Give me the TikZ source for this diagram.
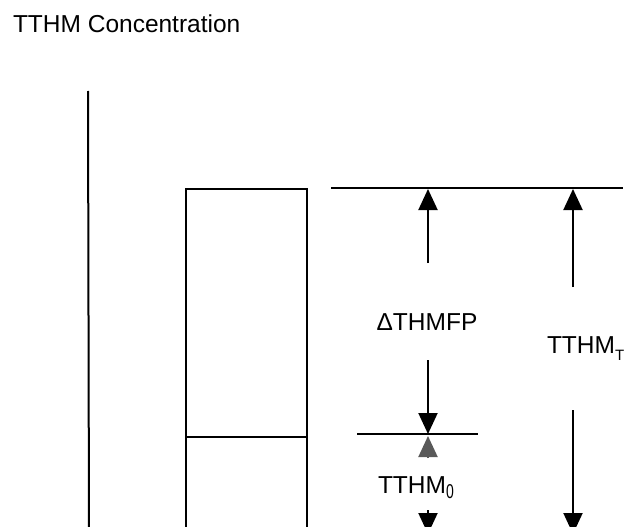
\documentclass[tikz,border=0pt]{standalone}
\usepackage{fontspec}
\setmainfont{Liberation Sans}
\usetikzlibrary{arrows.meta}
\begin{document}
\begin{tikzpicture}[x=1pt,y=-1pt, line width=2pt,
  lbl/.style={font=\fontsize{24.5}{28}\selectfont, inner sep=0pt},
  tip/.style={-{Triangle[width=19pt,length=21pt]}},
]
\useasboundingbox (0,0) rectangle (641,527);
\clip (0,0) rectangle (641,527);
% title
\node[lbl, anchor=base west] (title) at (12,33) {TTHM Concentration};
% axis
\coordinate (axTop) at (88,91);
\coordinate (axBot) at (89,540);
\draw (axTop) -- (axBot);
% bar
\coordinate (bTL) at (186,189);
\coordinate (bTR) at (307,189);
\coordinate (bBL) at (186,560);
\coordinate (bBR) at (307,560);
\coordinate (bML) at (186,437);
\coordinate (bMR) at (307,437);
\draw (bBL) -- (bTL) -- (bTR) -- (bBR);
\draw (bML) -- (bMR);
% reference lines
\coordinate (topL) at (331,188);
\coordinate (topR) at (623,188);
\draw (topL) -- (topR);
\coordinate (midL) at (357,434);
\coordinate (midR) at (478,434);
\draw (midL) -- (midR);
% Delta THMFP dimension
\node[lbl, anchor=base] (dthmfp) at (427,330) {\char"0394THMFP};
\coordinate (aTopTip) at (428,189);
\coordinate (aTopStart) at (428,263);
\draw[tip] (aTopStart) -- (aTopTip);
\coordinate (aMidStart) at (428,360);
\coordinate (aMidTip) at (428,434);
\draw[tip] (aMidStart) -- (aMidTip);
% TTHM_0 dimension
\coordinate (a0Start) at (428,458);
\coordinate (a0Tip) at (428,436);
\draw[tip, black!65] (a0Start) -- (a0Tip);
\node[lbl, anchor=base west] (tthm0) at (377,493)
  {TTHM\raisebox{-5pt}{\scalebox{0.7}[1]{\fontsize{20}{20}\selectfont 0}}};
\coordinate (a0bStart) at (428,510);
\coordinate (a0bTip) at (428,534);
\draw[tip] (a0bStart) -- (a0bTip);
% TTHM_T dimension
\coordinate (aTTip) at (573,189);
\coordinate (aTStart) at (573,287);
\draw[tip] (aTStart) -- (aTTip);
\node[lbl, anchor=base west] (tthmt) at (546,353)
  {TTHM\raisebox{-7pt}{\fontsize{15}{15}\selectfont T}};
\coordinate (aTbStart) at (573,410);
\coordinate (aTbTip) at (573,534);
\draw[tip] (aTbStart) -- (aTbTip);
\end{tikzpicture}
\end{document}
